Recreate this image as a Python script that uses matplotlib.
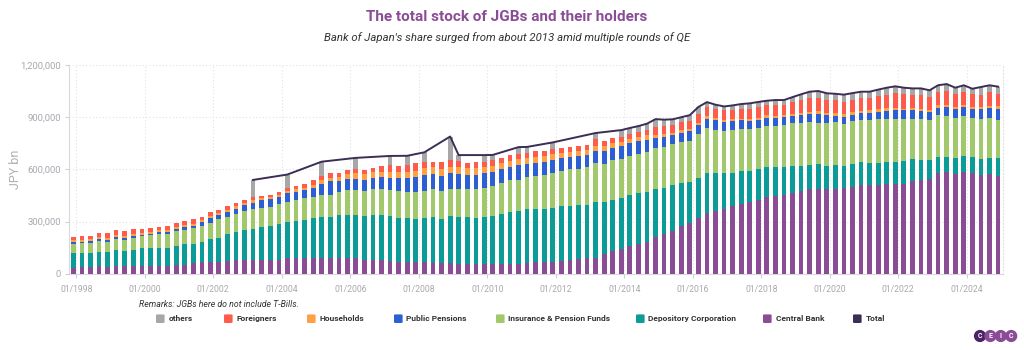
import numpy as np
import pandas as pd
import matplotlib
matplotlib.use("Agg")
import matplotlib.pyplot as plt
import matplotlib.dates as mdates
from matplotlib.patches import FancyBboxPatch, Circle
from matplotlib.ticker import FuncFormatter, FixedLocator

plt.rcParams['font.family'] = ['Roboto', 'DejaVu Sans']

# quarterly data, JPY bn in thousands (Dec 1997 .. Dec 2024)
dates = pd.date_range('1997-12-01', periods=109, freq='3MS')

central_bank = [35, 37, 37, 42, 37, 42, 44, 46, 46, 46, 46, 46, 48, 48, 60, 65, 69, 69, 71, 77,
                81, 81, 81, 81, 81, 88, 90, 90, 92, 92, 92, 92, 90, 90, 81, 77, 77, 71, 67, 65,
                65, 65, 60, 60, 60, 58, 58, 58, 58, 58, 58, 58, 58, 62, 65, 65, 69, 73, 79, 85,
                92, 92, 113, 129, 144, 160, 171, 185, 210, 227, 244, 273, 290, 321, 348, 360, 371, 387, 404, 413,
                425, 440, 448, 456, 465, 477, 485, 490, 485, 486, 494, 500, 508, 508, 512, 517, 519, 517, 531, 537,
                548, 579, 585, 575, 585, 579, 567, 573, 560]
depository = [82, 80, 80, 85, 86, 96, 87, 92, 100, 100, 104, 104, 114, 125, 113, 118, 129, 137, 156, 161,
              169, 179, 186, 194, 204, 212, 216, 220, 227, 235, 237, 245, 250, 250, 252, 260, 261, 260, 256, 254,
              252, 256, 267, 257, 271, 269, 267, 265, 267, 275, 286, 296, 301, 309, 310, 310, 310, 317, 311, 309,
              306, 320, 302, 298, 293, 292, 294, 288, 278, 269, 268, 250, 239, 231, 231, 219, 208, 192, 188, 177,
              175, 172, 164, 159, 154, 146, 142, 139, 134, 138, 125, 133, 134, 132, 128, 127, 125, 131, 127, 115,
              104, 92, 86, 92, 92, 92, 96, 96, 107]
insurance = [56, 58, 60, 60, 60, 62, 65, 70, 69, 77, 77, 79, 84, 81, 89, 90, 92, 107, 100, 104,
             110, 111, 114, 110, 115, 115, 119, 125, 123, 125, 125, 136, 141, 141, 142, 148, 149, 150, 154, 152,
             154, 154, 160, 158, 159, 163, 162, 165, 167, 173, 177, 184, 182, 185, 188, 192, 200, 200, 210, 208,
             214, 223, 216, 227, 223, 227, 225, 229, 235, 235, 232, 235, 234, 252, 258, 250, 244, 246, 241, 243,
             238, 238, 240, 239, 246, 246, 246, 238, 246, 249, 244, 246, 243, 247, 252, 248, 248, 242, 234, 240,
             233, 242, 239, 231, 233, 223, 229, 225, 220]
public_pensions = [8, 10, 11, 11, 11, 13, 12, 11, 10, 8, 11, 11, 10, 13, 15, 23, 31, 27, 31, 33,
                   34, 35, 44, 46, 40, 47, 44, 48, 52, 63, 77, 58, 65, 65, 65, 67, 71, 71, 73, 81,
                   85, 94, 88, 90, 89, 85, 84, 83, 87, 82, 83, 79, 83, 75, 74, 75, 75, 77, 71, 75,
                   69, 73, 77, 71, 73, 71, 72, 69, 58, 57, 56, 55, 56, 54, 55, 54, 50, 54, 50, 46,
                   47, 48, 46, 46, 43, 43, 44, 54, 47, 36, 37, 34, 38, 40, 41, 46, 50, 50, 50, 45,
                   44, 43, 50, 50, 50, 52, 54, 60, 63]
households = [11, 11, 12, 12, 12, 12, 11, 12, 12, 11, 12, 12, 11, 12, 11, 12, 12, 12, 11, 13,
              14, 17, 10, 9, 16, 17, 18, 13, 19, 22, 19, 27, 29, 31, 33, 31, 30, 35, 35, 36,
              36, 37, 37, 39, 38, 40, 37, 39, 36, 33, 33, 33, 34, 34, 34, 35, 33, 27, 29, 31,
              31, 27, 27, 25, 25, 25, 23, 25, 17, 16, 12, 14, 12, 11, 14, 13, 14, 13, 9, 13,
              11, 14, 12, 13, 11, 11, 14, 14, 11, 17, 19, 16, 14, 13, 13, 14, 14, 10, 12, 11,
              11, 13, 11, 14, 11, 14, 12, 13, 15]
foreigners = [20, 19, 19, 23, 27, 29, 25, 25, 23, 23, 21, 21, 23, 25, 25, 21, 21, 17, 19, 18,
              17, 17, 13, 12, 17, 15, 17, 21, 24, 23, 29, 23, 23, 25, 25, 27, 31, 38, 34, 39,
              43, 40, 34, 40, 35, 33, 32, 34, 31, 33, 32, 33, 33, 31, 33, 31, 30, 27, 31, 30,
              30, 38, 30, 31, 30, 29, 30, 31, 46, 46, 44, 46, 46, 52, 56, 52, 55, 48, 56, 56,
              62, 57, 59, 56, 68, 77, 79, 78, 79, 76, 71, 73, 76, 73, 77, 79, 84, 87, 77, 83,
              79, 79, 81, 75, 77, 73, 73, 77, 72]
N = None
total = [N, N, N, N, N, N, N, N, N, N, N, N, N, N, N, N, N, N, N, N,
         N, 540, N, N, N, 571, N, N, N, 645, N, N, N, 667, N, N, N, 678, N, 679,
         N, 699, N, N, 790, 683, N, N, 683, 684, N, N, 729, 730, N, N, 756, N, N, N,
         N, 810, N, N, 827, 839, 850, 864, 890, 887, 889, 901, 913, 960, 988, 973, 963, 969, 977, 981,
         989, 996, 1000, 1000, 1017, 1033, 1048, 1052, 1039, 1036, 1031, 1040, 1048, 1048, 1060, 1071, 1079, 1071, 1067, 1067,
         1056, 1085, 1092, 1071, 1085, 1065, 1075, 1085, 1077]

holders = [
    ('Central Bank', central_bank, '#8b4c96'),
    ('Depository Corporation', depository, '#0b9c98'),
    ('Insurance & Pension Funds', insurance, '#a1c96b'),
    ('Public Pensions', public_pensions, '#2c5fd3'),
    ('Households', households, '#ffa042'),
    ('Foreigners', foreigners, '#ff5b4b'),
]
gray = '#a7a7a7'
line_col = '#3b2d55'

scale = 1000.0
tot = np.array([np.nan if v is None else v for v in total], dtype=float) * scale
stack_sum = np.sum([np.array(v, dtype=float) for _, v, _ in holders], axis=0) * scale
others = np.where(np.isnan(tot), 0.0, tot - stack_sum)

fig = plt.figure(figsize=(10.24, 3.5), dpi=100)
ax = fig.add_axes([69 / 1024, 1 - 273.7 / 350, (1003 - 69) / 1024, (273.7 - 65.3) / 350])

x = mdates.date2num(dates)
width = 50
bottom = np.zeros(len(x))
for name, vals, col in holders:
    v = np.array(vals, dtype=float) * scale
    ax.bar(x, v, width=width, bottom=bottom, color=col, linewidth=0, zorder=3)
    bottom += v
ax.bar(x, others, width=width, bottom=bottom, color=gray, linewidth=0, zorder=3)

m = ~np.isnan(tot)
ax.plot(x[m], tot[m], color=line_col, lw=1.4, zorder=4)

ax.set_ylim(0, 1200000)
ax.set_xlim(mdates.date2num(pd.Timestamp('1997-10-15')), mdates.date2num(pd.Timestamp('2025-01-22')))
ax.yaxis.set_major_locator(FixedLocator([0, 300000, 600000, 900000, 1200000]))
ax.yaxis.set_major_formatter(FuncFormatter(lambda v, p: f'{int(v):,}'))
ax.xaxis.set_major_locator(mdates.YearLocator(2))
ax.xaxis.set_major_formatter(mdates.DateFormatter('%m/%Y'))
ax.grid(True, color='#e2e2e2', ls=(0, (1, 2)), lw=0.8, zorder=0)
ax.tick_params(axis='both', colors='#cfcfd6', labelcolor='#a8a8b0', length=3, width=0.8)
ax.tick_params(axis='x', pad=5, labelsize=6.2)
ax.tick_params(axis='y', pad=3, labelsize=6.8)
ax.spines['top'].set_visible(False)
ax.spines['right'].set_linestyle((0, (1, 2)))
ax.spines['right'].set_color('#e2e2e2')
ax.spines['left'].set_color('#d8d8e0')
ax.spines['bottom'].set_color('#d8d8e0')
ax.set_ylabel('JPY bn', color='#b0b0b8', fontsize=9)
ax.yaxis.set_label_coords(-0.05, 0.5)

fig.text(0.4946, 1 - 17 / 350, 'The total stock of JGBs and their holders', ha='center', va='center',
         fontsize=11, fontweight='bold', color='#8b4c96')
fig.text(0.495, 1 - 38 / 350, "Bank of Japan's share surged from about 2013 amid multiple rounds of QE",
         ha='center', va='center', fontsize=8.2, style='italic', color='#333333')
fig.text(139 / 1024, 1 - 304.7 / 350, 'Remarks: JGBs here do not include T-Bills.', ha='left', va='center',
         fontsize=6.3, style='italic', color='#333333')

# legend
legend_items = [('others', gray, 156), ('Foreigners', '#ff5b4b', 224), ('Households', '#ffa042', 307),
                ('Public Pensions', '#2c5fd3', 394), ('Insurance & Pension Funds', '#a1c96b', 496),
                ('Depository Corporation', '#0b9c98', 636), ('Central Bank', '#8b4c96', 763),
                ('Total', line_col, 853)]
ly = 318.7
for name, col, px in legend_items:
    fig.add_artist(FancyBboxPatch((px / 1024, 1 - (ly + 4.3) / 350), 8.6 / 1024, 8.6 / 350,
                                  boxstyle='round,pad=0,rounding_size=0.002', transform=fig.transFigure,
                                  facecolor=col, edgecolor='none'))
    fig.text((px + 12.5) / 1024, 1 - ly / 350, name, ha='left', va='center', fontsize=6,
             fontweight='bold', color='#333333')

# CEIC logo
logo = fig.add_axes([970 / 1024, 1 - 345 / 350, 50 / 1024, 18 / 350])
logo.set_xlim(0, 50)
logo.set_ylim(0, 18)
logo.set_aspect('equal')
logo.axis('off')
for i, (ch, col) in enumerate(zip('CEIC', ['#4a2466', '#8b4c96', '#8b4c96', '#8b4c96'])):
    logo.add_patch(Circle((10 + i * 10.4, 9), 5.4, color=col))
    logo.text(10 + i * 10.4, 9, ch, ha='center', va='center', fontsize=5, color='white', fontweight='bold')

fig.savefig('out.png', dpi=100)
